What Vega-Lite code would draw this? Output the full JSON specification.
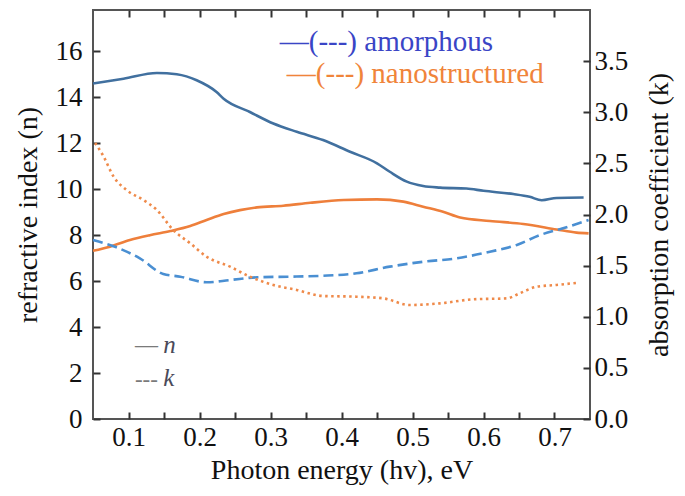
{
  "$schema": "https://vega.github.io/schema/vega-lite/v6.json",
  "width": 497,
  "height": 409,
  "autosize": "none",
  "padding": {"left": 93, "top": 10, "right": 95, "bottom": 77},
  "config": {
    "font": "'Liberation Serif', 'Times New Roman', serif",
    "view": {"stroke": "#555555", "strokeWidth": 2},
    "axis": {
      "grid": false,
      "domain": false,
      "ticks": true,
      "tickSize": 7,
      "offset": -7,
      "tickColor": "#333333",
      "tickWidth": 2,
      "labelFont": "'Liberation Serif', 'Times New Roman', serif",
      "labelFontSize": 27,
      "labelColor": "#111111",
      "titleFont": "'Liberation Serif', 'Times New Roman', serif",
      "titleFontSize": 28,
      "titleFontWeight": "normal",
      "titleColor": "#111111"
    }
  },
  "datasets": {
    "nvals": [
      {"series": "amorphous n", "x": 0.05, "n": 14.6},
      {"series": "amorphous n", "x": 0.093, "n": 14.81},
      {"series": "amorphous n", "x": 0.14, "n": 15.06},
      {"series": "amorphous n", "x": 0.168, "n": 15.0},
      {"series": "amorphous n", "x": 0.196, "n": 14.74},
      {"series": "amorphous n", "x": 0.224, "n": 14.23},
      {"series": "amorphous n", "x": 0.234, "n": 13.94},
      {"series": "amorphous n", "x": 0.271, "n": 13.36},
      {"series": "amorphous n", "x": 0.304, "n": 12.86},
      {"series": "amorphous n", "x": 0.337, "n": 12.5},
      {"series": "amorphous n", "x": 0.374, "n": 12.14},
      {"series": "amorphous n", "x": 0.412, "n": 11.63},
      {"series": "amorphous n", "x": 0.45, "n": 11.13},
      {"series": "amorphous n", "x": 0.468, "n": 10.76},
      {"series": "amorphous n", "x": 0.492, "n": 10.33},
      {"series": "amorphous n", "x": 0.515, "n": 10.14},
      {"series": "amorphous n", "x": 0.539, "n": 10.07},
      {"series": "amorphous n", "x": 0.576, "n": 10.03},
      {"series": "amorphous n", "x": 0.6, "n": 9.93},
      {"series": "amorphous n", "x": 0.642, "n": 9.79},
      {"series": "amorphous n", "x": 0.665, "n": 9.67},
      {"series": "amorphous n", "x": 0.682, "n": 9.52},
      {"series": "amorphous n", "x": 0.703, "n": 9.62},
      {"series": "amorphous n", "x": 0.741, "n": 9.64},
      {"series": "nanostructured n", "x": 0.05, "n": 7.32},
      {"series": "nanostructured n", "x": 0.074, "n": 7.5},
      {"series": "nanostructured n", "x": 0.102, "n": 7.79},
      {"series": "nanostructured n", "x": 0.13, "n": 8.0},
      {"series": "nanostructured n", "x": 0.159, "n": 8.18},
      {"series": "nanostructured n", "x": 0.187, "n": 8.4},
      {"series": "nanostructured n", "x": 0.21, "n": 8.66},
      {"series": "nanostructured n", "x": 0.234, "n": 8.92},
      {"series": "nanostructured n", "x": 0.257, "n": 9.09},
      {"series": "nanostructured n", "x": 0.281, "n": 9.21},
      {"series": "nanostructured n", "x": 0.318, "n": 9.28},
      {"series": "nanostructured n", "x": 0.356, "n": 9.41},
      {"series": "nanostructured n", "x": 0.403, "n": 9.53},
      {"series": "nanostructured n", "x": 0.45, "n": 9.56},
      {"series": "nanostructured n", "x": 0.487, "n": 9.46},
      {"series": "nanostructured n", "x": 0.515, "n": 9.24},
      {"series": "nanostructured n", "x": 0.543, "n": 9.02},
      {"series": "nanostructured n", "x": 0.567, "n": 8.77},
      {"series": "nanostructured n", "x": 0.609, "n": 8.62},
      {"series": "nanostructured n", "x": 0.656, "n": 8.49},
      {"series": "nanostructured n", "x": 0.703, "n": 8.25},
      {"series": "nanostructured n", "x": 0.731, "n": 8.11},
      {"series": "nanostructured n", "x": 0.748, "n": 8.08}
    ],
    "kvals": [
      {"series": "amorphous k", "x": 0.05, "k": 1.75},
      {"series": "amorphous k", "x": 0.083, "k": 1.679},
      {"series": "amorphous k", "x": 0.116, "k": 1.571},
      {"series": "amorphous k", "x": 0.149, "k": 1.418},
      {"series": "amorphous k", "x": 0.173, "k": 1.392},
      {"series": "amorphous k", "x": 0.21, "k": 1.337},
      {"series": "amorphous k", "x": 0.243, "k": 1.359},
      {"series": "amorphous k", "x": 0.281, "k": 1.386},
      {"series": "amorphous k", "x": 0.327, "k": 1.392},
      {"series": "amorphous k", "x": 0.374, "k": 1.401},
      {"series": "amorphous k", "x": 0.421, "k": 1.425},
      {"series": "amorphous k", "x": 0.468, "k": 1.49},
      {"series": "amorphous k", "x": 0.515, "k": 1.538},
      {"series": "amorphous k", "x": 0.562, "k": 1.571},
      {"series": "amorphous k", "x": 0.609, "k": 1.636},
      {"series": "amorphous k", "x": 0.647, "k": 1.702},
      {"series": "amorphous k", "x": 0.68, "k": 1.8},
      {"series": "amorphous k", "x": 0.712, "k": 1.865},
      {"series": "amorphous k", "x": 0.748, "k": 1.946},
      {"series": "nanostructured k", "x": 0.053, "k": 2.7},
      {"series": "nanostructured k", "x": 0.065, "k": 2.566},
      {"series": "nanostructured k", "x": 0.079, "k": 2.37},
      {"series": "nanostructured k", "x": 0.097, "k": 2.24},
      {"series": "nanostructured k", "x": 0.121, "k": 2.142},
      {"series": "nanostructured k", "x": 0.14, "k": 2.044},
      {"series": "nanostructured k", "x": 0.163, "k": 1.848},
      {"series": "nanostructured k", "x": 0.187, "k": 1.718},
      {"series": "nanostructured k", "x": 0.21, "k": 1.587},
      {"series": "nanostructured k", "x": 0.243, "k": 1.49},
      {"series": "nanostructured k", "x": 0.271, "k": 1.392},
      {"series": "nanostructured k", "x": 0.304, "k": 1.311},
      {"series": "nanostructured k", "x": 0.337, "k": 1.262},
      {"series": "nanostructured k", "x": 0.374, "k": 1.203},
      {"series": "nanostructured k", "x": 0.421, "k": 1.196},
      {"series": "nanostructured k", "x": 0.459, "k": 1.18},
      {"series": "nanostructured k", "x": 0.496, "k": 1.115},
      {"series": "nanostructured k", "x": 0.539, "k": 1.131},
      {"series": "nanostructured k", "x": 0.586, "k": 1.171},
      {"series": "nanostructured k", "x": 0.633, "k": 1.18},
      {"series": "nanostructured k", "x": 0.651, "k": 1.229},
      {"series": "nanostructured k", "x": 0.675, "k": 1.294},
      {"series": "nanostructured k", "x": 0.703, "k": 1.311},
      {"series": "nanostructured k", "x": 0.733, "k": 1.333}
    ],
    "legendtext": [
      {"series": "amorphous label", "label": "—(---) amorphous", "x": 0.313, "n": 16.39},
      {"series": "nanostructured label", "label": "—(---) nanostructured", "x": 0.323, "n": 15.0}
    ],
    "keydash": [
      {"series": "key dash", "label": "—", "x": 0.109, "n": 3.22},
      {"series": "key dash", "label": "---", "x": 0.109, "n": 1.7}
    ],
    "keyletter": [
      {"series": "key letter", "label": "n", "x": 0.149, "n": 3.22},
      {"series": "key letter", "label": "k", "x": 0.149, "n": 1.78}
    ]
  },
  "layer": [
    {
      "layer": [
        {
          "data": {"name": "nvals"},
          "mark": {"type": "line", "strokeWidth": 2.6, "interpolate": "monotone"},
          "encoding": {
            "x": {
              "field": "x", "type": "quantitative",
              "scale": {"domain": [0.05, 0.75], "nice": false, "zero": false},
              "axis": {
                "orient": "bottom",
                "title": "Photon energy (hv), eV",
                "values": [0.1, 0.15, 0.2, 0.25, 0.3, 0.35, 0.4, 0.45, 0.5, 0.55, 0.6, 0.65, 0.7],
                "labelExpr": "(round(datum.value*20) % 2 == 0) ? format(datum.value, '.1f') : ''",
                "labelPadding": 5,
                "titlePadding": 6
              }
            },
            "y": {
              "field": "n", "type": "quantitative",
              "scale": {"domain": [0, 17.8], "nice": false},
              "axis": {
                "orient": "left",
                "title": "refractive index (n)",
                "values": [0, 1, 2, 3, 4, 5, 6, 7, 8, 9, 10, 11, 12, 13, 14, 15, 16, 17],
                "labelExpr": "(datum.value % 2 == 0) ? datum.label : ''",
                "labelPadding": 11,
                "titlePadding": 13
              }
            },
            "color": {
              "field": "series", "type": "nominal", "legend": null,
              "scale": {
                "domain": ["amorphous n", "amorphous k", "nanostructured n", "nanostructured k", "amorphous label", "nanostructured label", "key dash", "key letter"],
                "range": ["#41709f", "#4a8fd2", "#ee7f3b", "#ef8a4a", "#3a45c6", "#f0843a", "#7a7a7a", "#4a4a5a"]
              }
            }
          }
        },
        {
          "data": {"name": "legendtext"},
          "mark": {"type": "text", "align": "left", "baseline": "middle", "fontSize": 29},
          "encoding": {
            "x": {"field": "x", "type": "quantitative"},
            "y": {"field": "n", "type": "quantitative"},
            "text": {"field": "label"},
            "color": {"field": "series", "type": "nominal", "legend": null}
          }
        },
        {
          "data": {"name": "keydash"},
          "mark": {"type": "text", "align": "left", "baseline": "middle", "fontSize": 23},
          "encoding": {
            "x": {"field": "x", "type": "quantitative"},
            "y": {"field": "n", "type": "quantitative"},
            "text": {"field": "label"},
            "color": {"field": "series", "type": "nominal", "legend": null}
          }
        },
        {
          "data": {"name": "keyletter"},
          "mark": {"type": "text", "align": "left", "baseline": "middle", "fontSize": 25, "fontStyle": "italic"},
          "encoding": {
            "x": {"field": "x", "type": "quantitative"},
            "y": {"field": "n", "type": "quantitative"},
            "text": {"field": "label"},
            "color": {"field": "series", "type": "nominal", "legend": null}
          }
        }
      ]
    },
    {
      "layer": [
        {
          "data": {"name": "kvals"},
          "transform": [{"filter": "datum.series == 'amorphous k'"}],
          "mark": {"type": "line", "strokeWidth": 2.6, "strokeDash": [10, 5], "interpolate": "monotone"},
          "encoding": {
            "x": {
              "field": "x", "type": "quantitative",
              "scale": {"domain": [0.05, 0.75], "nice": false, "zero": false},
              "axis": {
                "orient": "top",
                "title": null,
                "labels": false,
                "values": [0.1, 0.15, 0.2, 0.25, 0.3, 0.35, 0.4, 0.45, 0.5, 0.55, 0.6, 0.65, 0.7]
              }
            },
            "y": {
              "field": "k", "type": "quantitative",
              "scale": {"domain": [0, 4], "nice": false},
              "axis": {
                "orient": "right",
                "title": "absorption coefficient (k)",
                "titleAngle": -90,
                "titleBaseline": "top",
                "values": [0, 0.25, 0.5, 0.75, 1, 1.25, 1.5, 1.75, 2, 2.25, 2.5, 2.75, 3, 3.25, 3.5, 3.75],
                "labelExpr": "(round(datum.value*4) % 2 == 0) ? format(datum.value, '.1f') : ''",
                "labelPadding": 4,
                "titlePadding": 18
              }
            },
            "color": {"field": "series", "type": "nominal", "legend": null}
          }
        },
        {
          "data": {"name": "kvals"},
          "transform": [{"filter": "datum.series == 'nanostructured k'"}],
          "mark": {"type": "line", "strokeWidth": 2.6, "strokeDash": [2.5, 3.5], "interpolate": "monotone"},
          "encoding": {
            "x": {"field": "x", "type": "quantitative"},
            "y": {"field": "k", "type": "quantitative"},
            "color": {"field": "series", "type": "nominal", "legend": null}
          }
        }
      ]
    }
  ],
  "resolve": {"scale": {"y": "independent"}, "axis": {"x": "independent"}}
}
